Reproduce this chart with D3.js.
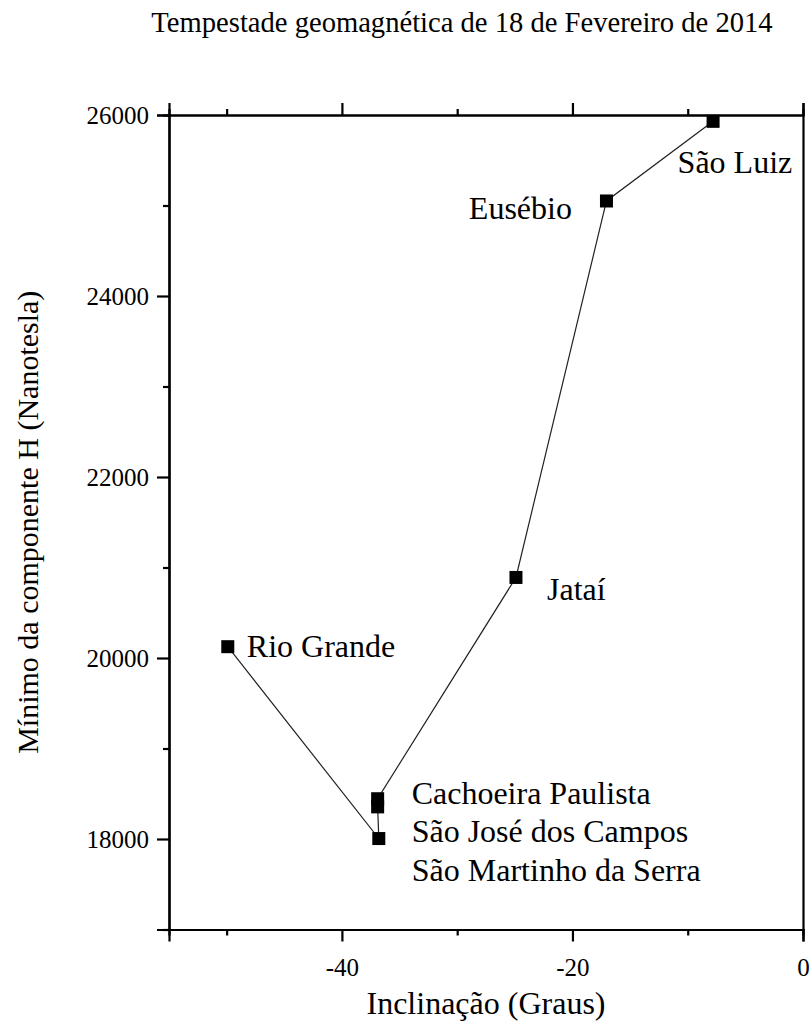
<!DOCTYPE html>
<html>
<head>
<meta charset="utf-8">
<script src="https://cdn.jsdelivr.net/npm/d3@7"></script>
<style>
  html, body { margin: 0; padding: 0; background: #fff; }
</style>
</head>
<body>
<svg id="chart" width="811" height="1031"></svg>
<script>
// Estações magnéticas: inclinação (graus) e mínimo da componente H (nT)
const stations   = ["Rio Grande", "São Martinho da Serra", "São José dos Campos", "Cachoeira Paulista", "Jataí", "Eusébio", "São Luiz"];
const inclination = [-49.9, -36.8, -36.9, -36.9, -24.9, -17.05, -7.8];
const minH        = [20125, 18005, 18355, 18445, 20890, 25050, 25930];

// Eixos
const xDomain = [-55, 0];
const yDomain = [17000, 26000];
const xMajorTicks = [-40, -20, 0];
const xMinorTicks = [-50, -30, -10];
const yMajorTicks = [18000, 20000, 22000, 24000, 26000];
const yMinorTicks = [17000, 19000, 21000, 23000, 25000];

// Posição dos rótulos em relação ao marcador (px) e alinhamento
const labelOffsets = [
  { dx: 19,    dy: 10.5, anchor: "start" },
  { dx: 33,    dy: 42,   anchor: "start" },
  { dx: 34,    dy: 35.5, anchor: "start" },
  { dx: 34,    dy: 5.5,  anchor: "start" },
  { dx: 31,    dy: 23,   anchor: "start" },
  { dx: -34.5, dy: 18,   anchor: "end" },
  { dx: -35.5, dy: 52,   anchor: "start" }
];

const FONT = "'Liberation Serif', Tinos, 'Times New Roman', Times, 'DejaVu Serif', serif";

const svg = d3.select("#chart");
const plotLeft = 169, plotRight = 803, plotTop = 115, plotBottom = 929.5;

const x = d3.scaleLinear().domain(xDomain).range([plotLeft, plotRight]);
const y = d3.scaleLinear().domain(yDomain).range([plotBottom, plotTop]);

const data = stations.map((s, i) => ({ name: s, x: inclination[i], y: minH[i], off: labelOffsets[i] }));

// Título
svg.append("text")
  .attr("x", 462).attr("y", 32)
  .attr("text-anchor", "middle")
  .style("font-family", FONT)
  .style("font-size", "28.6px")
  .text("Tempestade geomagnética de 18 de Fevereiro de 2014");

const fmt = d => String(d);

// Eixo inferior (com rótulos)
svg.append("g").attr("transform", `translate(0,${plotBottom})`)
  .call(d3.axisBottom(x).tickValues(xMajorTicks).tickSize(12).tickPadding(17).tickFormat(fmt));
svg.append("g").attr("transform", `translate(0,${plotBottom})`)
  .call(d3.axisBottom(x).tickValues(xMinorTicks).tickSize(6).tickFormat(""));

// Eixo superior (só marcas)
svg.append("g").attr("transform", `translate(0,${plotTop})`)
  .call(d3.axisTop(x).tickValues(xMajorTicks).tickSize(12).tickFormat(""));
svg.append("g").attr("transform", `translate(0,${plotTop})`)
  .call(d3.axisTop(x).tickValues(xMinorTicks).tickSize(6).tickFormat(""));

// Eixo esquerdo (com rótulos)
svg.append("g").attr("transform", `translate(${plotLeft},0)`)
  .call(d3.axisLeft(y).tickValues(yMajorTicks).tickSize(12).tickPadding(8).tickFormat(fmt));
svg.append("g").attr("transform", `translate(${plotLeft},0)`)
  .call(d3.axisLeft(y).tickValues(yMinorTicks).tickSize(6).tickFormat(""));

// Eixo direito (só a linha)
svg.append("g").attr("transform", `translate(${plotRight},0)`)
  .call(d3.axisRight(y).tickValues([]).tickSizeOuter(0));

svg.selectAll("g").attr("font-family", null);
svg.selectAll(".domain").attr("stroke", "#000").attr("stroke-width", 2.2);
svg.selectAll(".tick line").attr("stroke", "#000").attr("stroke-width", 2.2);
svg.selectAll(".tick text")
  .style("font-family", FONT)
  .style("font-size", "25px")
  .attr("fill", "#000");

// Títulos dos eixos
svg.append("text")
  .attr("x", 486).attr("y", 1014)
  .attr("text-anchor", "middle")
  .style("font-family", FONT)
  .style("font-size", "32px")
  .text("Inclinação (Graus)");

svg.append("text")
  .attr("transform", `translate(38,${(plotTop + plotBottom) / 2}) rotate(-90)`)
  .attr("text-anchor", "middle")
  .style("font-family", FONT)
  .style("font-size", "30px")
  .text("Mínimo da componente H (Nanotesla)");

// Linha que liga as estações
svg.append("path")
  .datum(data)
  .attr("fill", "none")
  .attr("stroke", "#222")
  .attr("stroke-width", 1.2)
  .attr("d", d3.line().x(d => x(d.x)).y(d => y(d.y)));

// Marcadores quadrados
const sq = 13;
svg.selectAll("rect.pt")
  .data(data)
  .join("rect")
  .attr("class", "pt")
  .attr("x", d => x(d.x) - sq / 2)
  .attr("y", d => y(d.y) - sq / 2)
  .attr("width", sq).attr("height", sq)
  .attr("fill", "#000");

// Nomes das estações
svg.selectAll("text.lbl")
  .data(data)
  .join("text")
  .attr("class", "lbl")
  .attr("x", d => x(d.x) + d.off.dx)
  .attr("y", d => y(d.y) + d.off.dy)
  .attr("text-anchor", d => d.off.anchor)
  .style("font-family", FONT)
  .style("font-size", "32px")
  .text(d => d.name);
</script>
</body>
</html>
